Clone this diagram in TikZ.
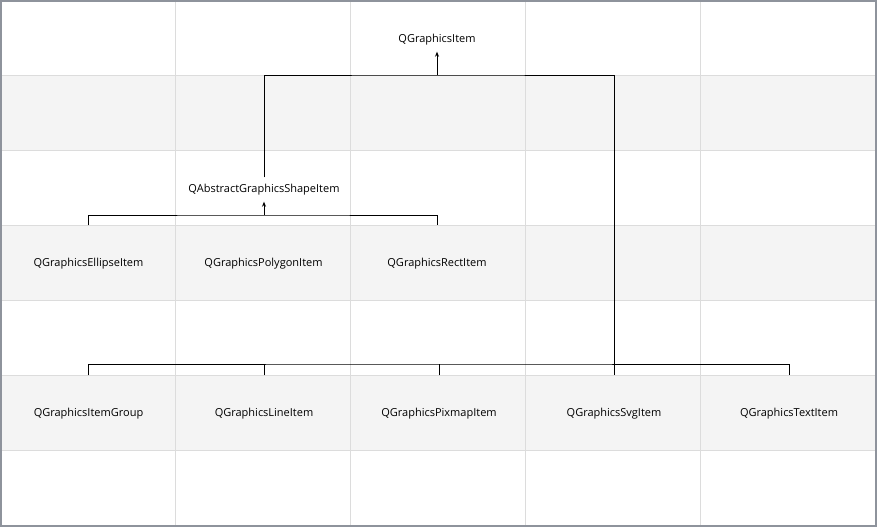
\documentclass[tikz,border=0pt]{standalone}
\usepackage{fontspec}
\setmainfont{Open Sans}
\usetikzlibrary{arrows.meta}
\definecolor{band}{HTML}{F4F4F4}
\definecolor{gridc}{HTML}{DCDCDC}
\definecolor{bd}{HTML}{8E939C}
\begin{document}
\begin{tikzpicture}[x=1pt,y=-1pt,
  lbl/.style={font=\fontsize{11}{13}\selectfont, inner sep=0pt, minimum height=24pt, text=black},
  cell/.style={lbl, minimum width=175pt, minimum height=77pt},
  conn/.style={line width=0.9pt, black},
  arr/.style={conn, -{Stealth[length=5pt,width=4pt]}}]
\useasboundingbox (0,0) rectangle (877,527);
\foreach \y in {75,225,375} \fill[band] (0,\y) rectangle (877,\y+75);
\foreach \x in {175,350,525,700} \draw[gridc, line width=0.8pt] (\x,0) -- (\x,527);
\foreach \y in {75,150,225,300,375,450} \draw[gridc, line width=0.8pt] (0,\y) -- (877,\y);
\draw[bd, line width=1.8pt] (0.9,0.9) rectangle (876.1,526.1);

\node[lbl] (gi) at (437,39.5) {QGraphicsItem};
\node[lbl] (asi) at (264,189.5) {QAbstractGraphicsShapeItem};
\node[cell] (ell) at (88.5,264) {QGraphicsEllipseItem};
\node[cell] (poly) at (263.5,264) {QGraphicsPolygonItem};
\node[cell] (rect) at (437,264) {QGraphicsRectItem};
\node[cell] (grp) at (88.5,414) {QGraphicsItemGroup};
\node[cell] (line) at (264,414) {QGraphicsLineItem};
\node[cell] (pix) at (439,414) {QGraphicsPixmapItem};
\node[cell] (svg) at (614,414) {QGraphicsSvgItem};
\node[cell] (txt) at (789,414) {QGraphicsTextItem};

\coordinate (top) at (437,75);
\coordinate (mid) at (264,215);
\coordinate (low) at (439,364);

\draw[conn] (asi.north) |- (top) -| (svg.north);
\draw[arr] (top) -- (gi.south);
\draw[conn] (ell.north) |- (mid) -| (rect.north);
\draw[arr] (mid) -- (asi.south);
\draw[conn] (grp.north) |- (low) -| (txt.north);
\draw[conn] (line.north) -- (line.north |- low);
\draw[conn] (pix.north) -- (pix.north |- low);
\end{tikzpicture}
\end{document}
